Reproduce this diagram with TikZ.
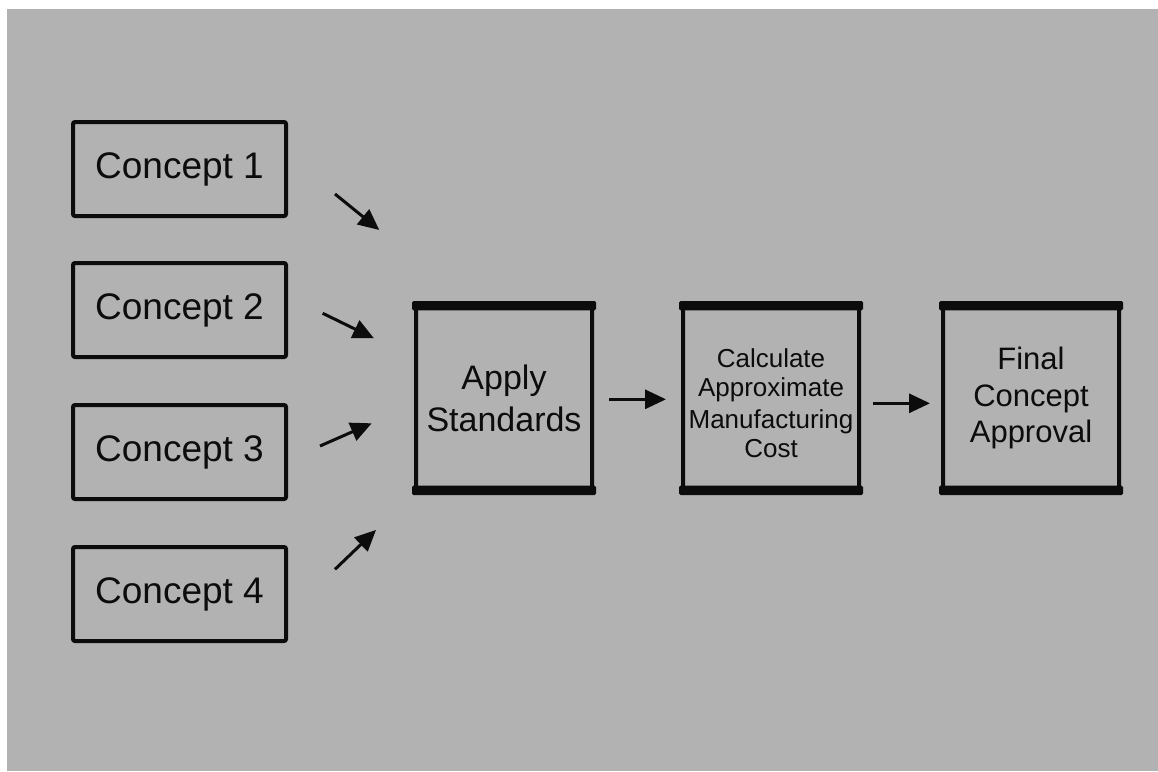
\documentclass[tikz,border=0pt]{standalone}
\usepackage{fontspec}
\setmainfont{Liberation Sans}
\usetikzlibrary{arrows.meta}
\definecolor{canvasgray}{RGB}{178,178,178}
\definecolor{ink}{RGB}{12,12,12}
\tikzset{
  concept/.style={draw=ink, line width=4pt, rounded corners=2pt, inner sep=0pt,
    minimum width=213pt, minimum height=94pt, text=ink,
    font=\fontsize{37}{44}\selectfont},
  stage/.style={draw=ink, line width=4pt, rounded corners=2pt, inner sep=0pt,
    minimum width=176pt, minimum height=186pt, align=center, text=ink},
  flow/.style={draw=ink, line width=3pt, -{Triangle[length=21pt, width=19pt]}},
}
% draws the heavy bars along the top and bottom edges of a stage box
\newcommand{\stagebars}[1]{%
  \fill[ink, rounded corners=1.5pt] ([xshift=-2pt,yshift=2pt]#1.north west)
    rectangle ([xshift=2pt,yshift=-7.4pt]#1.north east);
  \fill[ink, rounded corners=1.5pt] ([xshift=-2pt,yshift=7.3pt]#1.south west)
    rectangle ([xshift=2pt,yshift=-2pt]#1.south east);
}
\begin{document}
\begin{tikzpicture}[x=1pt, y=-1pt]
  \useasboundingbox (0,0) rectangle (1158,771);
  \fill[white] (0,0) rectangle (1158,771);
  \fill[canvasgray] (7,9) rectangle (1158,771);

  % candidate concepts
  \node[concept] (c1) at (179.5,169) {Concept 1};
  \node[concept] (c2) at (179.5,310) {Concept 2};
  \node[concept] (c3) at (179.5,452) {Concept 3};
  \node[concept] (c4) at (179.5,594) {Concept 4};

  % evaluation stages
  \node[stage, font=\fontsize{34}{42}\selectfont] (apply) at (504,398)
    {Apply\\Standards};
  \node[stage, font=\fontsize{26}{29}\selectfont] (cost) at (771,398)
    {\rule{0pt}{30pt}Calculate\\Approximate\\[3pt]Manufacturing\\Cost};
  \node[stage, font=\fontsize{31}{36.5}\selectfont] (final) at (1031,398)
    {Final\\Concept\\Approval};
  \stagebars{apply}
  \stagebars{cost}
  \stagebars{final}

  % arrow end points
  \coordinate (a1s) at (335,194);   \coordinate (a1e) at (379.3,230);
  \coordinate (a2s) at (322.7,313.3); \coordinate (a2e) at (374,338.3);
  \coordinate (a3s) at (320,446);   \coordinate (a3e) at (371.7,423.3);
  \coordinate (a4s) at (335,569.3); \coordinate (a4e) at (376,530);
  \coordinate (h1s) at (609,399.3); \coordinate (h1e) at (666,399.3);
  \coordinate (h2s) at (873.3,403.3); \coordinate (h2e) at (930,403.3);

  \draw[flow] (a1s) -- (a1e);
  \draw[flow] (a2s) -- (a2e);
  \draw[flow] (a3s) -- (a3e);
  \draw[flow] (a4s) -- (a4e);
  \draw[flow] (h1s) -- (h1e);
  \draw[flow] (h2s) -- (h2e);
\end{tikzpicture}
\end{document}
